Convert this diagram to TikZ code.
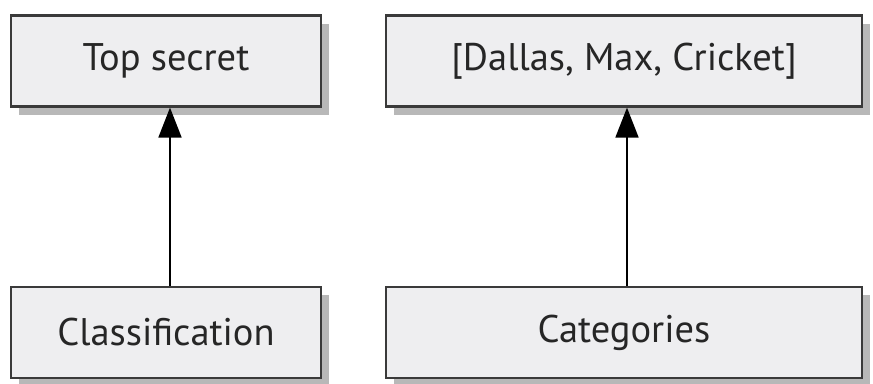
\documentclass[tikz,border=0pt]{standalone}
\usepackage{fontspec}
\setmainfont{PT Sans}
\usetikzlibrary{arrows.meta,shadows}
\definecolor{boxfill}{HTML}{EEEEF0}
\definecolor{boxline}{HTML}{3A3A3A}
\definecolor{shadowgray}{HTML}{B8B8B8}
\definecolor{txt}{HTML}{262626}
\begin{document}
\begin{tikzpicture}[x=1pt,y=-1pt,
  box/.style={draw=boxline, line width=2.2pt, fill=boxfill, inner sep=0pt,
    minimum height=91pt, text=txt, font=\fontsize{38.5}{40}\selectfont,
    general shadow={fill=shadowgray, shadow xshift=8pt, shadow yshift=-8pt}},
  conn/.style={draw=black, line width=1.8pt, -{Triangle[width=23pt,length=30pt]}}]
\useasboundingbox (0,0) rectangle (873,383);
\node[box, minimum width=310pt] (top) at (166,61) {Top secret};
\node[box, minimum width=476pt] (cats) at (624,61) {[Dallas, Max, Cricket]};
\node[box, minimum width=310pt] (cls) at (166,332.5) {Classification};
\node[box, minimum width=476pt] (cat) at (624,332.5) {Categories};
\draw[conn] ([xshift=4pt]cls.north) -- ([xshift=4pt]top.south);
\draw[conn] ([xshift=3pt]cat.north) -- ([xshift=3pt]cats.south);
\end{tikzpicture}
\end{document}
